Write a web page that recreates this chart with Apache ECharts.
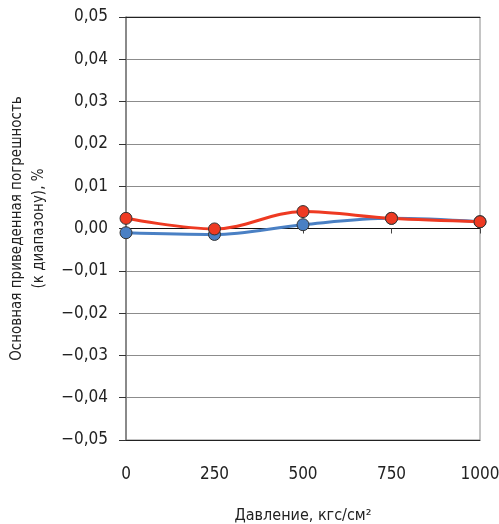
<!DOCTYPE html>
<html>
<head>
<meta charset="utf-8">
<script src="https://cdn.jsdelivr.net/npm/echarts@6/dist/echarts.min.js"></script>
<style>
  html, body { margin: 0; padding: 0; background: #fff; }
  #chart { width: 499px; height: 524px; }
</style>
</head>
<body>
<div id="chart"></div>
<script>
// давление, кгс/см2
const pressures = [0, 250, 500, 750, 1000];
// погрешность, %
const redValues = [0.0024, -0.0001, 0.0040, 0.0024, 0.0016];
const blueValues = [-0.0010, -0.0014, 0.0009, 0.0024, 0.0016];

const FONT = '"DejaVu Sans Condensed", "Liberation Sans Narrow", "DejaVu Sans", sans-serif';

const toPairs = (vals) => pressures.map((p, i) => [p, vals[i]]);
const fmt = (v) => {
  const s = Math.abs(v).toFixed(2).replace('.', ',');
  return v < -1e-9 ? '−' + s : s;
};

const chart = echarts.init(document.getElementById('chart'));

const xBase = { type: 'value', min: 0, max: 1000, interval: 250 };

chart.setOption({
  animation: false,
  grid: {
    left: 126, right: 19, top: 17, bottom: 84,
    outerBoundsMode: 'none',
    containLabel: false,
    show: true, borderColor: '#8a8a8a', borderWidth: 1
  },
  xAxis: [
    {
      ...xBase,
      position: 'bottom',
      axisLine: { onZero: false, lineStyle: { color: '#222', width: 1 } },
      axisTick: { show: false },
      splitLine: { show: false },
      axisLabel: {
        color: '#222', fontFamily: FONT, fontSize: 17, margin: 26,
        formatter: (v) => String(v)
      },
      name: 'Давление, кгс/см²',
      nameLocation: 'middle',
      nameGap: 68,
      nameTextStyle: { color: '#222', fontFamily: FONT, fontSize: 16 }
    },
    {
      // линия нуля с рисками
      ...xBase,
      position: 'bottom',
      axisLine: { onZero: true, lineStyle: { color: '#111', width: 1 } },
      axisTick: { show: true, length: 5, lineStyle: { color: '#444' } },
      axisLabel: { show: false },
      splitLine: { show: false }
    },
    {
      ...xBase,
      position: 'top',
      axisLine: { onZero: false, lineStyle: { color: '#222', width: 1 } },
      axisTick: { show: false },
      axisLabel: { show: false },
      splitLine: { show: false }
    }
  ],
  yAxis: {
    type: 'value',
    min: -0.05,
    max: 0.05,
    interval: 0.01,
    axisLine: { show: true, lineStyle: { color: '#777', width: 1.5 } },
    axisTick: { show: true, length: 7, lineStyle: { color: '#333' } },
    splitLine: { show: true, lineStyle: { color: '#8c8c8c', width: 1 } },
    axisLabel: {
      color: '#222', fontFamily: FONT, fontSize: 17, margin: 18,
      formatter: fmt
    },
    name: 'Основная приведенная погрешность\n(к диапазону), %',
    nameLocation: 'middle',
    nameGap: 73,
    nameTextStyle: { color: '#222', fontFamily: FONT, fontSize: 15, lineHeight: 22 }
  },
  series: [
    {
      type: 'line',
      xAxisIndex: 0,
      data: toPairs(blueValues),
      smooth: 0.35,
      symbol: 'circle',
      symbolSize: 12,
      lineStyle: { color: '#4a80c4', width: 3 },
      itemStyle: { color: '#4a80c4', borderColor: '#333', borderWidth: 1 },
      z: 3
    },
    {
      type: 'line',
      xAxisIndex: 0,
      data: toPairs(redValues),
      smooth: 0.35,
      symbol: 'circle',
      symbolSize: 12,
      lineStyle: { color: '#ee3a22', width: 3 },
      itemStyle: { color: '#ee3a22', borderColor: '#333', borderWidth: 1 },
      z: 4
    }
  ]
});
</script>
</body>
</html>
